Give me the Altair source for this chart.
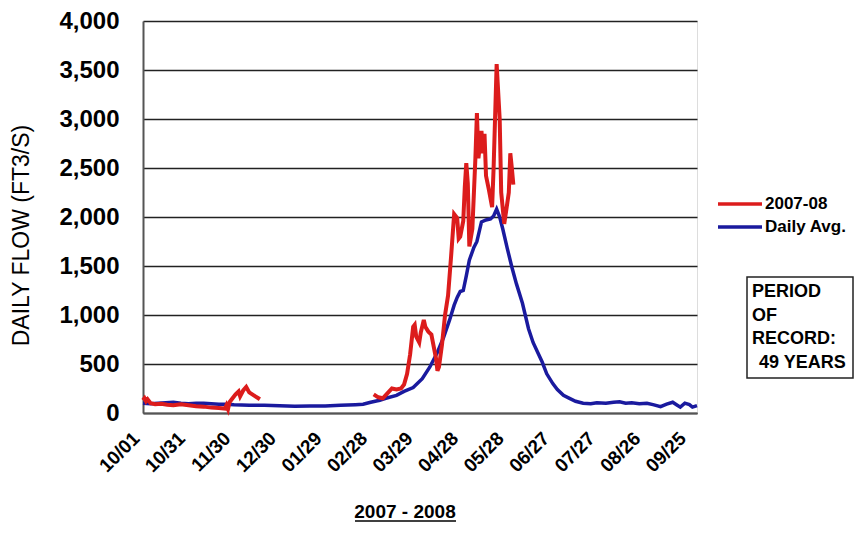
import json
import altair as alt
import pandas as pd

# ---------------- data ----------------
tick_labels = ["10/01", "10/31", "11/30", "12/30", "01/29", "02/28", "03/29",
               "04/28", "05/28", "06/27", "07/27", "08/26", "09/25"]
tick_days = [0, 30, 60, 90, 120, 150, 180, 210, 240, 270, 300, 330, 360]

# Daily average (49-year record), day 0 = 10/01
avg_days = [0, 5, 10, 15, 20, 25, 30, 35, 40, 45, 50, 55, 60, 70, 80, 90, 100, 110,
            120, 130, 140, 145, 150, 156, 160, 167, 172, 178, 184, 189, 194, 198,
            202, 205, 207, 209, 211, 213, 215, 218, 220, 223, 226, 229, 231, 233,
            235, 237, 240, 243, 246, 250, 254, 257, 260, 263, 266, 270, 273, 277,
            281, 285, 290, 295, 299, 305, 310, 314, 318, 322, 327, 332, 336, 341,
            345, 349, 352, 354, 357, 360, 362, 365]
avg_vals = [100, 95, 100, 105, 110, 100, 95, 100, 100, 95, 90, 90, 85, 80, 78, 75, 70, 72,
            72, 78, 85, 90, 110, 130, 150, 180, 220, 260, 350, 470, 620, 770,
            950, 1100, 1180, 1240, 1250, 1400, 1560, 1690, 1750, 1950, 1970, 1980, 2010, 2080,
            2000, 1880, 1680, 1490, 1320, 1120, 860, 720, 620, 520, 400, 300, 240, 180,
            150, 120, 100, 95, 105, 100, 110, 115, 100, 105, 95, 100, 85, 65,
            90, 110, 80, 60, 100, 85, 60, 75]

# 2007-08 daily flow, two recorded periods
red1_days = [0, 1, 2, 3, 5, 8, 12, 16, 20, 25, 30, 35, 40, 45, 50, 54, 55, 56, 57, 59,
             61, 63, 64, 66, 68, 70, 72, 74, 76, 77]
red1_vals = [130, 150, 120, 140, 100, 90, 95, 85, 80, 90, 80, 70, 65, 55, 50, 45, 80, 40, 110, 150,
             190, 220, 170, 230, 265, 210, 190, 170, 150, 140]

red2_days = [152, 155, 158, 161, 164, 167, 170, 172, 174, 176, 178, 179, 180, 182, 183, 185,
             186, 188, 190, 191, 193, 194, 195, 197, 199, 201, 203, 205, 207, 208, 209, 211,
             212, 213, 214, 215, 217, 219, 220, 221, 223, 224, 225, 226, 228, 230, 231, 233,
             235, 236, 238, 240, 241, 242, 243, 244]
red2_vals = [190, 160, 150, 200, 250, 240, 250, 290, 400, 600, 880, 900, 780, 720, 820, 950,
             880, 830, 800, 720, 560, 430, 470, 700, 1000, 1200, 1600, 2030, 1990, 1780, 1800, 1960,
             2300, 2550, 2340, 1700, 1880, 2600, 3060, 2600, 2880, 2650, 2850, 2420, 2270, 2100, 2500, 3560,
             3000, 2250, 1930, 2140, 2250, 2650, 2500, 2330]

legend_labels = ["2007-08", "Daily Avg."]
box_lines = ["PERIOD", "OF", "RECORD:", "49 YEARS"]
x_title = "2007 - 2008"
y_title = "DAILY FLOW (FT3/S)"

RED = "#dc1c1c"
BLUE = "#1a1a9e"
FONT = "Liberation Sans"

# ---------------- frames ----------------
avg_df = pd.DataFrame({"day": avg_days, "flow": avg_vals, "seg": "avg"})
red_df = pd.concat([
    pd.DataFrame({"day": red1_days, "flow": red1_vals, "seg": "a"}),
    pd.DataFrame({"day": red2_days, "flow": red2_vals, "seg": "b"}),
])

label_expr = json.dumps(tick_labels) + "[round(datum.value / 30)]"

x_enc = alt.X("day:Q",
              scale=alt.Scale(domain=[0, 365], nice=False, zero=False),
              axis=alt.Axis(values=tick_days, labelExpr=label_expr, labelAngle=-45,
                            labelAlign="right", labelBaseline="middle",
                            labelPadding=22, labelOffset=-7, ticks=False, grid=False,
                            labelFont=FONT, labelFontSize=19, labelFontWeight="bold",
                            labelColor="black", domainColor="#555", domainWidth=2,
                            title=None, labelOverlap=False))
y_enc = alt.Y("flow:Q",
              scale=alt.Scale(domain=[0, 4000], nice=False),
              axis=alt.Axis(values=list(range(0, 4001, 500)), format=",.0f",
                            ticks=False, grid=True, gridColor="#222", gridWidth=1.4,
                            labelFont=FONT, labelFontSize=24, labelFontWeight="bold",
                            labelColor="black", labelPadding=24,
                            domainColor="#555", domainWidth=2,
                            title=y_title, titleFont=FONT, titleFontSize=23,
                            titleFontWeight="normal", titleColor="black",
                            titleAngle=-90, titleAlign="center", titleBaseline="bottom",
                            titleX=-110, titleY=214))

avg_line = alt.Chart(avg_df).mark_line(color=BLUE, strokeWidth=3.5).encode(
    x=x_enc, y=y_enc, detail="seg:N")
red_line = alt.Chart(red_df).mark_line(color=RED, strokeWidth=4).encode(
    x="day:Q", y="flow:Q", detail="seg:N")

one = pd.DataFrame({"k": [0]})
layers = [avg_line, red_line]

# legend (drawn beside the plot)
for i, (lab, col) in enumerate(zip(legend_labels, [RED, BLUE])):
    yy = 183 + i * 23
    layers.append(alt.Chart(one).mark_rule(color=col, strokeWidth=3.5).encode(
        x=alt.value(575), x2=alt.value(619), y=alt.value(yy)))
    layers.append(alt.Chart(one).mark_text(
        text=lab, align="left", baseline="middle", font=FONT, fontSize=17,
        fontWeight="bold", color="black").encode(x=alt.value(622), y=alt.value(yy)))

# period of record box
layers.append(alt.Chart(one).mark_rect(fill="white", stroke="#222", strokeWidth=1.5).encode(
    x=alt.value(604), x2=alt.value(710), y=alt.value(256), y2=alt.value(357)))
for i, line in enumerate(box_lines):
    layers.append(alt.Chart(one).mark_text(
        text=line, align="left", baseline="middle", font=FONT, fontSize=18,
        fontWeight="bold", color="black").encode(
            x=alt.value(616 if i == 3 else 609), y=alt.value(271 + i * 23.5)))

# x title, underlined
layers.append(alt.Chart(one).mark_text(
    text=x_title, align="center", baseline="alphabetic", font=FONT, fontSize=19,
    fontWeight="bold", color="black").encode(x=alt.value(262), y=alt.value(497)))
layers.append(alt.Chart(one).mark_rule(color="black", strokeWidth=1.5).encode(
    x=alt.value(212), x2=alt.value(313), y=alt.value(500)))

chart = alt.layer(*layers).properties(
    width=554, height=392,
    padding={"left": 135, "top": 13, "right": 158, "bottom": 112},
    autosize=alt.AutoSizeParams(type="none"),
).configure_view(stroke="#555", strokeWidth=1.5).configure(background="white")

chart.save("out.html", embed_options={"renderer": "svg", "actions": False})
